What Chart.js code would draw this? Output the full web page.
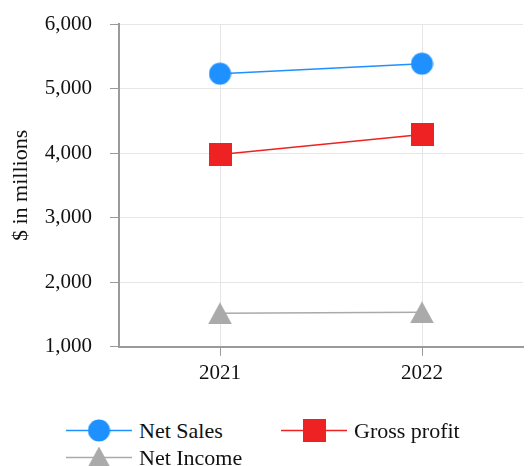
<!DOCTYPE html>
<html>
<head>
<meta charset="utf-8">
<script src="https://cdn.jsdelivr.net/npm/chart.js@4.4.0/dist/chart.umd.min.js"></script>
<style>
  body { margin: 0; background: #fff; overflow: hidden; }
  #wrap { position: relative; width: 529px; height: 466px; }
  #legend {
    position: absolute; left: 66px; top: 417px;
    display: grid; grid-template-columns: 215px 215px; grid-auto-rows: 27px;
    font-family: "Liberation Serif", serif; font-size: 22px; color: #111;
  }
  .item { display: flex; align-items: center; height: 27px; white-space: nowrap; }
  .item span { margin-left: 7px; line-height: 27px; }
</style>
</head>
<body>
<div id="wrap">
  <canvas id="myChart" width="529" height="400"></canvas>
  <div id="legend"></div>
</div>
<script>
const years = ['2021', '2022'];
const netSales = [5230, 5385];
const grossProfit = [3980, 4290];
const netIncome = [1518, 1534];

const seriesNames = ['Net Sales', 'Gross profit', 'Net Income'];
const seriesColors = ['#1e90ff', '#ee2222', '#aaaaaa'];
const seriesShapes = ['circle', 'square', 'triangle'];

// draw a marker onto a small canvas, used as pointStyle
function makeMarker(shape, color) {
    const c = document.createElement('canvas');
    let w = 23, h = 23;
    if (shape === 'triangle') { w = 24; h = 22; }
    c.width = w; c.height = h;
    const g = c.getContext('2d');
    g.fillStyle = color;
    g.beginPath();
    if (shape === 'circle') {
        g.arc(w / 2, h / 2, 11, 0, Math.PI * 2);
    } else if (shape === 'square') {
        g.rect(0, 0, w, h);
    } else {
        g.moveTo(w / 2, 0);
        g.lineTo(w, h);
        g.lineTo(0, h);
        g.closePath();
    }
    g.fill();
    return c;
}

const markers = seriesShapes.map((s, i) => makeMarker(s, seriesColors[i]));
const seriesData = [netSales, grossProfit, netIncome];

const font = { family: 'Liberation Serif', size: 21 };
const titleFont = { family: 'Liberation Serif', size: 22 };

const ctx = document.getElementById('myChart').getContext('2d');
const chart = new Chart(ctx, {
    type: 'line',
    data: {
        labels: years,
        datasets: seriesNames.map((name, i) => ({
            label: name,
            data: seriesData[i],
            borderColor: seriesColors[i],
            backgroundColor: seriesColors[i],
            borderWidth: 1.5,
            pointStyle: markers[i],
            pointRadius: 12
        }))
    },
    options: {
        responsive: false,
        animation: false,
        layout: { autoPadding: false, padding: { top: 24, right: 6, bottom: 9, left: 0 } },
        plugins: {
            legend: { display: false },
            tooltip: { enabled: false }
        },
        scales: {
            x: {
                offset: true,
                grid: { color: '#e6e6e6', tickColor: '#9a9a9a', tickLength: 9, offset: false },
                border: { color: '#9a9a9a', width: 2 },
                ticks: { font: font, color: '#111', padding: 5 }
            },
            y: {
                min: 1000,
                max: 6000,
                grid: { color: '#e6e6e6', tickColor: '#9a9a9a', tickLength: 9 },
                border: { color: '#9a9a9a', width: 2 },
                ticks: { stepSize: 1000, font: font, color: '#111', padding: 18 },
                title: { display: true, text: '$ in millions', font: titleFont, color: '#111', padding: { top: 8, bottom: 0 } },
                afterFit: function (scale) {
                    scale.width = 119;
                    scale.paddingTop = 0;
                    scale.paddingBottom = 0;
                }
            }
        }
    }
});

// legend built from the datasets
const legend = document.getElementById('legend');
chart.data.datasets.forEach((ds, i) => {
    const item = document.createElement('div');
    item.className = 'item';
    const c = document.createElement('canvas');
    c.width = 66; c.height = 27;
    const g = c.getContext('2d');
    g.strokeStyle = ds.borderColor;
    g.lineWidth = 1.5;
    g.beginPath();
    g.moveTo(0, 13.5);
    g.lineTo(66, 13.5);
    g.stroke();
    const m = markers[i];
    g.drawImage(m, 33 - m.width / 2, 13.5 - m.height / 2);
    item.appendChild(c);
    const t = document.createElement('span');
    t.textContent = ds.label;
    item.appendChild(t);
    legend.appendChild(item);
});
</script>
</body>
</html>
